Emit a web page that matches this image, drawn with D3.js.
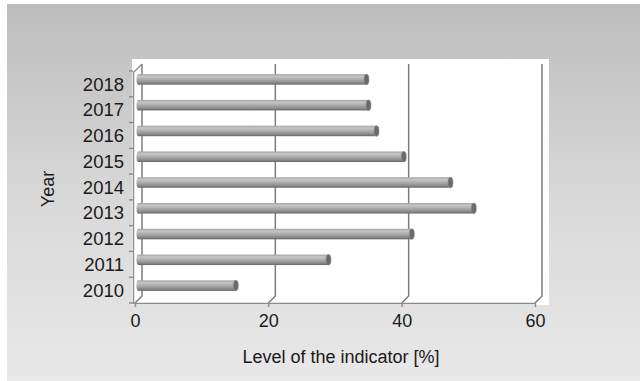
<!DOCTYPE html>
<html>
<head>
<meta charset="utf-8">
<script src="https://d3js.org/d3.v7.min.js"></script>
<style>
  body { margin: 0; background: #fff; }
  text { font-family: "Liberation Sans", Arial, sans-serif; fill: #1a1a1a; }
</style>
</head>
<body>
<div id="chart"></div>
<script>
  const width = 640, height = 381;

  // data
  const years = ["2010", "2011", "2012", "2013", "2014", "2015", "2016", "2017", "2018"];
  const values = [14.6, 28.5, 41.0, 50.3, 46.8, 39.8, 35.7, 34.5, 34.2];
  const xTicks = [0, 20, 40, 60];

  const depth = 7; // 3d offset of the back wall

  const svg = d3.select("#chart").append("svg")
      .attr("width", width)
      .attr("height", height);

  const defs = svg.append("defs");

  const bg = defs.append("linearGradient").attr("id", "bg")
      .attr("x1", 0).attr("y1", 0).attr("x2", 0).attr("y2", 1);
  bg.append("stop").attr("offset", "0%").attr("stop-color", "#bdbdbd");
  bg.append("stop").attr("offset", "55%").attr("stop-color", "#dadada");
  bg.append("stop").attr("offset", "100%").attr("stop-color", "#e8e8e8");

  const cyl = defs.append("linearGradient").attr("id", "cyl")
      .attr("x1", 0).attr("y1", 0).attr("x2", 0).attr("y2", 1);
  cyl.append("stop").attr("offset", "0%").attr("stop-color", "#a2a2a2");
  cyl.append("stop").attr("offset", "22%").attr("stop-color", "#c6c6c6");
  cyl.append("stop").attr("offset", "50%").attr("stop-color", "#acacac");
  cyl.append("stop").attr("offset", "80%").attr("stop-color", "#8c8c8c");
  cyl.append("stop").attr("offset", "100%").attr("stop-color", "#656565");

  svg.append("rect")
      .attr("x", 7).attr("y", 4)
      .attr("width", width - 7).attr("height", height - 4)
      .attr("fill", "url(#bg)");

  // plot area
  svg.append("rect")
      .attr("x", 132).attr("y", 59)
      .attr("width", 417).attr("height", 246)
      .attr("fill", "#fff");

  const x = d3.scaleLinear().domain([0, 60]).range([135, 535]);
  const y = d3.scaleBand().domain(years.slice().reverse()).range([71, 303]);

  const wallTop = 64, floorY = 303;

  // back wall gridlines with the floor slant
  svg.append("g").selectAll("path.grid").data(xTicks)
    .join("path")
      .attr("class", "grid")
      .attr("d", d => `M${x(d) + depth},${wallTop} L${x(d) + depth},${floorY - depth} L${x(d)},${floorY}`)
      .attr("fill", "none")
      .attr("stroke", "#7d7d7d")
      .attr("stroke-width", 1.5);

  // left axis top slant
  svg.append("path")
      .attr("d", `M${x(0) - 1},${y.range()[0] + 1} L${x(0) + depth},${wallTop}`)
      .attr("fill", "none")
      .attr("stroke", "#8a8a8a")
      .attr("stroke-width", 1.2);

  // bars (cylinders at mid depth)
  const bars = svg.append("g").selectAll("g.bar")
      .data(years.map((yr, i) => ({ year: yr, value: values[i] })))
      .join("g").attr("class", "bar");

  const bh = 10.5;
  const cy = d => y(d.year) + y.bandwidth() / 2 - depth / 2 - 1;
  const x0 = x(0) + depth / 2;

  bars.append("rect")
      .attr("x", x0)
      .attr("y", d => cy(d) - bh / 2)
      .attr("width", d => x(d.value) - x(0))
      .attr("height", bh)
      .attr("fill", "url(#cyl)");

  bars.append("ellipse")
      .attr("cx", d => x0 + x(d.value) - x(0))
      .attr("cy", cy)
      .attr("rx", 2.5)
      .attr("ry", bh / 2)
      .attr("fill", "#6a6a6a")
      .attr("stroke", "#8e8e8e")
      .attr("stroke-width", 0.6);

  bars.append("ellipse")
      .attr("cx", x0)
      .attr("cy", cy)
      .attr("rx", 2)
      .attr("ry", bh / 2)
      .attr("fill", "url(#cyl)");

  // x axis (front)
  const xAxis = svg.append("g")
      .attr("transform", `translate(0,${floorY})`)
      .call(d3.axisBottom(x).tickValues(xTicks).tickSize(4).tickPadding(7));
  xAxis.select(".domain").attr("stroke", "#8a8a8a").attr("stroke-width", 1.4)
      .attr("d", `M${x(0) - 2},0.5H${x(60)}`);
  xAxis.selectAll(".tick line").attr("stroke", "#8a8a8a").attr("stroke-width", 1.4);
  xAxis.selectAll(".tick text")
      .style("font-size", "18px")
      .attr("fill", "#1a1a1a");

  // y axis (front)
  const yAxis = svg.append("g")
      .attr("transform", `translate(${x(0) - 2},0)`)
      .call(d3.axisLeft(y).tickSize(0).tickPadding(9));
  yAxis.select(".domain").attr("stroke", "#8a8a8a").attr("stroke-width", 1.4);
  yAxis.selectAll(".tick text")
      .style("font-size", "18.5px")
      .attr("dy", "0.36em")
      .attr("fill", "#1a1a1a");

  // category boundary ticks
  const bounds = years.map(yr => y(yr)).concat([y.range()[1]]);
  yAxis.append("g").selectAll("line").data(bounds)
    .join("line")
      .attr("x1", -4).attr("x2", 0)
      .attr("y1", d => d).attr("y2", d => d)
      .attr("stroke", "#8a8a8a")
      .attr("stroke-width", 1.4);

  // axis titles
  svg.append("text")
      .attr("x", 341).attr("y", 357)
      .attr("dy", "0.35em")
      .attr("text-anchor", "middle")
      .style("font-size", "18px")
      .text("Level of the indicator [%]");

  svg.append("text")
      .attr("transform", "translate(48,189) rotate(-90)")
      .attr("dy", "0.35em")
      .attr("text-anchor", "middle")
      .style("font-size", "18px")
      .text("Year");
</script>
</body>
</html>
